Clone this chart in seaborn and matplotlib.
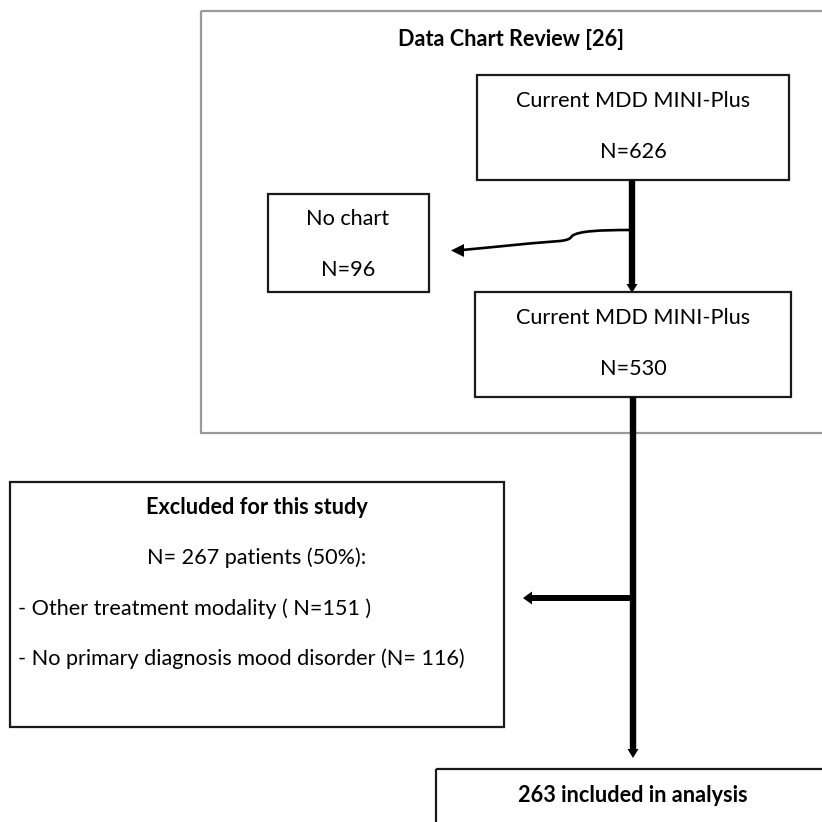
import matplotlib
matplotlib.use("Agg")
import matplotlib.pyplot as plt
from matplotlib.patches import Rectangle, Polygon, PathPatch
from matplotlib.path import Path
import seaborn as sns

# flow chart numbers
screened = 626
no_chart = 96
with_chart = 530
excluded = 267
excluded_pct = 50
other_modality = 151
no_primary_dx = 116
included = 263

review_title = "Data Chart Review [26]"
stage_label = "Current MDD MINI-Plus"
no_chart_label = "No chart"
excluded_title = "Excluded for this study"
included_label = f"{included} included in analysis"

sns.set_theme(style="white")
plt.rcParams['font.family'] = ['Lato', 'DejaVu Sans']

W = 822
fig = plt.figure(figsize=(8.22, 8.22), dpi=100)
ax = fig.add_axes([0, 0, 1, 1])
ax.set_xlim(0, W)
ax.set_ylim(W, 0)
ax.axis('off')

FS = 15.6
BOX_LW = 1.6


def box(x0, y0, x1, y1, color='#1a1a1a', lw=BOX_LW):
    ax.add_patch(Rectangle((x0, y0), x1 - x0, y1 - y0, fill=False,
                           edgecolor=color, linewidth=lw, clip_on=False))


def txt(x, y, s, ha='center', bold=False):
    ax.text(x, y, s, ha=ha, va='center', fontsize=FS, color='black',
            fontweight='bold' if bold else 'normal')


def head(tip, direction, length, half):
    x, y = tip
    if direction == 'down':
        pts = [(x, y), (x - half, y - length), (x + half, y - length)]
    else:  # left
        pts = [(x, y), (x + length, y - half), (x + length, y + half)]
    ax.add_patch(Polygon(pts, closed=True, color='black', linewidth=0))


# outer grey review frame
box(201, 11, 830, 433, color='#9a9a9a', lw=1.6)
txt(511, 40, review_title, bold=True)

# first stage
box(477, 75, 789, 180)
txt(633, 101, stage_label)
txt(633, 152, f"N={screened}")

# no chart
box(268, 194, 429, 292)
txt(348, 219, no_chart_label)
txt(348, 270, f"N={no_chart}")

# second stage
box(475, 292, 791, 397)
txt(633, 318, stage_label)
txt(633, 369, f"N={with_chart}")

# excluded box
box(10, 482, 504, 727)
txt(257, 507, excluded_title, bold=True)
txt(257, 558, f"N= {excluded} patients ({excluded_pct}%):")
txt(18, 609, f"- Other treatment modality ( N={other_modality} )", ha='left')
txt(18, 659, f"- No primary diagnosis mood disorder (N= {no_primary_dx})", ha='left')

# included box (runs off the page)
box(436, 769, 840, 840)
txt(633, 795, included_label, bold=True)

# thick vertical connectors
ax.plot([632, 632], [180, 285], color='black', lw=4.6, solid_capstyle='butt')
head((632, 293), 'down', 9, 5.5)
ax.plot([633, 633], [397, 749], color='black', lw=4.6, solid_capstyle='butt')
head((633, 758), 'down', 9, 5.5)

# thick horizontal arrow to excluded
ax.plot([633, 531], [598, 598], color='black', lw=4.3, solid_capstyle='butt')
head((523, 598), 'left', 9, 6.5)

# curved connector to "No chart"
verts = [(630, 230), (600, 230), (578, 231), (572, 236),
         (570, 239), (568, 240), (560, 241),
         (520, 244), (485, 248), (462, 250)]
codes = [Path.MOVETO] + [Path.CURVE4] * 9
ax.add_patch(PathPatch(Path(verts, codes), fill=False, edgecolor='black',
                       linewidth=1.9))
head((451, 250.5), 'left', 13, 6.5)

fig.savefig("out.png", dpi=100, facecolor='white')
